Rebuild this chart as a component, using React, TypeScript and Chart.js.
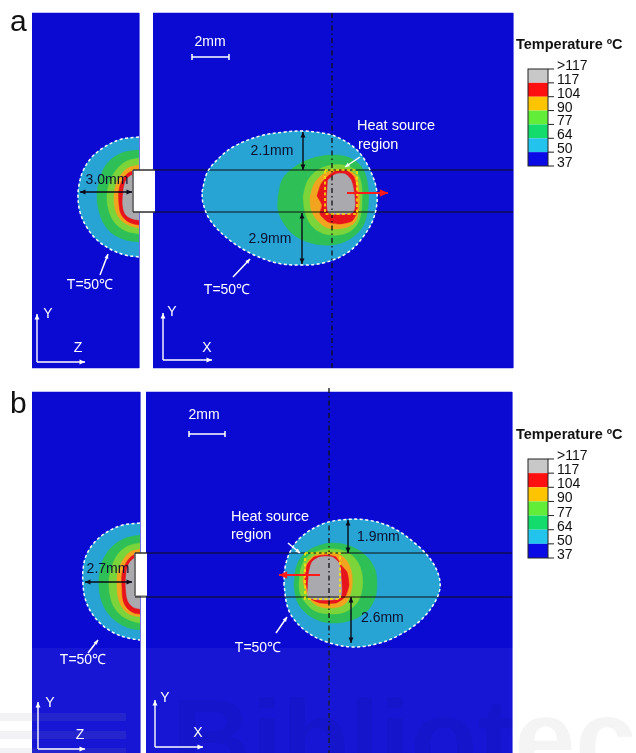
import React, { useEffect, useRef } from 'react';
import { Chart, registerables } from 'chart.js';
Chart.register(...registerables);

type P = [number, number];
const W = 636;
const H = 753;

// ---- section frames (figure units) ----
const frameA_YZ: P[] = [[32, 13], [139, 13], [139, 368], [32, 368]];
const frameA_XY: P[] = [[153, 13], [513, 13], [513, 368], [153, 368]];
const frameB_YZ: P[] = [[32, 392], [140, 392], [140, 753], [32, 753]];
const frameB_XY: P[] = [[146, 392], [512, 392], [512, 753], [146, 753]];
const notchA: P[] = [[155, 170], [133, 170], [133, 212], [155, 212]];
const notchB: P[] = [[147, 553], [135, 553], [135, 596], [147, 596]];

// ---- temperature levels ----
const levelLabels = ['>117', '117', '104', '90', '77', '64', '50', '37'];
const legendColors = ['#c8c8c8', '#ff1010', '#ffc400', '#62ee38', '#14dc6c', '#22c4ee', '#0a0ae6'];

// ---- contours: panel a, Y-Z section ----
const aYZ_50: P[] = [[139, 137], [122, 139], [106, 146], [92, 157], [83, 171], [79, 185], [78, 197], [80, 212], [86, 226], [96, 239], [110, 249], [125, 255], [139, 257]];
const aYZ_64: P[] = [[139, 150], [125, 152], [113, 158], [104, 168], [99, 182], [97, 196], [99, 211], [104, 224], [113, 234], [126, 240], [139, 242]];
const aYZ_77: P[] = [[139, 158], [127, 161], [117, 169], [110, 181], [107, 196], [109, 211], [115, 223], [126, 231], [139, 234]];
const aYZ_90: P[] = [[139, 165], [128, 168], [120, 176], [115, 188], [114, 200], [116, 212], [122, 221], [131, 226], [139, 228]];
const aYZ_104: P[] = [[139, 170], [130, 172], [123, 179], [119, 190], [119, 204], [121, 214], [127, 221], [134, 224], [139, 225]];
const aYZ_117: P[] = [[139, 174], [130, 176], [125, 183], [123, 195], [123, 207], [126, 215], [133, 219], [139, 220]];

// ---- contours: panel a, X-Y section ----
const aXY_50: P[] = [[202, 192], [207, 173], [217, 160], [233, 147], [260, 136], [285, 132], [303, 131], [322, 133], [337, 137], [357, 150], [370, 170], [377, 193], [374, 217], [363, 237], [347, 253], [323, 263], [300, 265], [277, 263], [250, 253], [227, 238], [210, 220], [203, 203]];
const aXY_64: P[] = [[278, 197], [282, 180], [293, 168], [310, 159], [332, 155], [350, 158], [363, 169], [368, 187], [368, 207], [363, 226], [350, 239], [332, 245], [311, 243], [294, 235], [283, 222], [278, 210]];
const aXY_77: P[] = [[303, 197], [307, 182], [315, 172], [327, 166], [343, 165], [355, 170], [361, 182], [362, 200], [360, 218], [352, 230], [338, 235], [322, 233], [311, 225], [305, 212]];
const aXY_90: P[] = [[310, 197], [314, 184], [322, 175], [333, 170], [347, 170], [356, 176], [359, 190], [359, 208], [355, 222], [344, 228], [328, 228], [317, 220], [311, 209]];
const aXY_104: P[] = [[317, 196], [321, 184], [328, 176], [336, 171], [347, 171], [354, 177], [357, 192], [357, 212], [352, 221], [340, 224], [328, 222], [320, 214], [322, 205]];
const aXY_117: P[] = [[328, 180], [336, 174], [345, 174], [351, 180], [354, 192], [355, 206], [352, 213], [329, 213], [327, 200]];
const aSource: P[] = [[325, 170], [357, 170], [357, 214], [325, 214], [325, 170]];

// ---- contours: panel b, Y-Z section ----
const bYZ_50: P[] = [[140, 523], [123, 525], [107, 532], [94, 543], [86, 556], [83, 570], [83, 584], [85, 598], [91, 612], [101, 624], [114, 633], [128, 638], [140, 640]];
const bYZ_64: P[] = [[140, 535], [126, 538], [114, 545], [105, 556], [100, 570], [99, 585], [101, 599], [107, 612], [117, 622], [129, 628], [140, 630]];
const bYZ_77: P[] = [[140, 543], [128, 546], [118, 554], [112, 566], [109, 580], [110, 595], [114, 607], [122, 616], [132, 621], [140, 623]];
const bYZ_90: P[] = [[140, 549], [130, 552], [123, 560], [118, 571], [117, 584], [118, 597], [122, 607], [129, 614], [140, 617]];
const bYZ_104: P[] = [[140, 553], [132, 556], [126, 563], [122, 574], [122, 588], [123, 600], [127, 608], [134, 613], [140, 614]];
const bYZ_117: P[] = [[140, 557], [133, 559], [128, 566], [126, 577], [126, 590], [128, 601], [133, 607], [140, 609]];

// ---- contours: panel b, X-Y section ----
const bXY_50: P[] = [[284, 585], [285, 568], [290, 552], [300, 538], [320, 525], [340, 520], [367, 520], [393, 528], [417, 545], [433, 563], [440, 582], [437, 598], [423, 618], [403, 633], [380, 643], [353, 647], [327, 642], [307, 632], [293, 618], [287, 605]];
const bXY_64: P[] = [[294, 585], [296, 568], [303, 555], [315, 547], [332, 543], [350, 546], [365, 555], [374, 567], [377, 582], [375, 598], [367, 611], [352, 620], [333, 623], [315, 619], [302, 609], [296, 598]];
const bXY_77: P[] = [[299, 584], [301, 568], [307, 557], [318, 551], [333, 549], [347, 552], [357, 561], [362, 574], [362, 590], [357, 603], [345, 612], [330, 614], [315, 611], [305, 602], [300, 593]];
const bXY_90: P[] = [[303, 582], [305, 567], [312, 557], [324, 553], [338, 554], [347, 561], [352, 575], [351, 592], [345, 604], [332, 608], [318, 606], [309, 598]];
const bXY_104: P[] = [[305, 580], [307, 565], [314, 557], [326, 555], [336, 557], [341, 565], [347, 572], [349, 585], [345, 597], [336, 603], [320, 603], [310, 598]];
const bXY_117: P[] = [[309, 572], [312, 562], [320, 557], [332, 557], [339, 563], [341, 575], [340, 598], [309, 598], [308, 585]];
const bSource: P[] = [[305, 553], [340, 553], [340, 599], [305, 599], [305, 553]];

// ---- reference lines ----
const interfaceLines: P[][] = [
  [[133, 170], [513, 170]], [[133, 212], [513, 212]],
  [[135, 553], [512, 553]], [[135, 597], [512, 597]],
];
const centreLines: P[][] = [[[332, 13], [332, 368]], [[329, 388], [329, 753]]];

// ---- annotations ----
const dimArrows = [[303, 132, 303, 170], [302, 213, 302, 264], [80, 192, 132, 192], [348, 520, 348, 553], [351, 597, 351, 643], [85, 582, 132, 582]];
const moveArrows = [[347, 193, 388, 193], [320, 575, 279, 575]];
const pointerArrows = [[360, 157, 345, 167], [233, 277, 250, 259], [100, 275, 108, 254], [288, 543, 300, 553], [276, 633, 287, 617], [88, 653, 98, 640]];
const axisArrows = [
  [37, 362, 37, 314], [37, 362, 85, 362], [163, 360, 163, 313], [163, 360, 212, 360],
  [38, 749, 38, 702], [38, 749, 85, 749], [155, 747, 155, 700], [155, 747, 203, 747],
];
const scaleBars = [[192, 229, 57], [189, 225, 434]];
const legendBoxes = [[528, 548, 69, 166, 516, 45], [528, 548, 459, 558, 516, 435]];

type Lbl = { t: string; x: number; y: number; s: number; c: string; a: CanvasTextAlign; b?: boolean; base?: CanvasTextBaseline };
const WHITE = '#ffffff';
const DARK = '#0d1030';
const labels: Lbl[] = [
  { t: 'a', x: 10, y: 31, s: 30, c: '#111', a: 'left', base: 'alphabetic' },
  { t: 'b', x: 10, y: 413, s: 30, c: '#111', a: 'left', base: 'alphabetic' },
  { t: '2mm', x: 210, y: 42, s: 14, c: WHITE, a: 'center' },
  { t: '2mm', x: 204, y: 415, s: 14, c: WHITE, a: 'center' },
  { t: 'Heat source', x: 357, y: 126, s: 14.5, c: WHITE, a: 'left' },
  { t: 'region', x: 358, y: 145, s: 14.5, c: WHITE, a: 'left' },
  { t: 'Heat source', x: 231, y: 517, s: 14.5, c: WHITE, a: 'left' },
  { t: 'region', x: 231, y: 535, s: 14.5, c: WHITE, a: 'left' },
  { t: 'T=50\u2103', x: 90, y: 285, s: 14, c: WHITE, a: 'center' },
  { t: 'T=50\u2103', x: 227, y: 290, s: 14, c: WHITE, a: 'center' },
  { t: 'T=50\u2103', x: 83, y: 660, s: 14, c: WHITE, a: 'center' },
  { t: 'T=50\u2103', x: 258, y: 648, s: 14, c: WHITE, a: 'center' },
  { t: '3.0mm', x: 107, y: 180, s: 14, c: DARK, a: 'center' },
  { t: '2.7mm', x: 108, y: 569, s: 14, c: DARK, a: 'center' },
  { t: '2.1mm', x: 272, y: 151, s: 14, c: DARK, a: 'center' },
  { t: '2.9mm', x: 270, y: 239, s: 14, c: DARK, a: 'center' },
  { t: '1.9mm', x: 357, y: 537, s: 14, c: DARK, a: 'left' },
  { t: '2.6mm', x: 361, y: 618, s: 14, c: DARK, a: 'left' },
  { t: 'Y', x: 48, y: 314, s: 14, c: WHITE, a: 'center' },
  { t: 'Z', x: 78, y: 348, s: 14, c: WHITE, a: 'center' },
  { t: 'Y', x: 172, y: 312, s: 14, c: WHITE, a: 'center' },
  { t: 'X', x: 207, y: 348, s: 14, c: WHITE, a: 'center' },
  { t: 'Y', x: 50, y: 703, s: 14, c: WHITE, a: 'center' },
  { t: 'Z', x: 80, y: 735, s: 14, c: WHITE, a: 'center' },
  { t: 'Y', x: 165, y: 698, s: 14, c: WHITE, a: 'center' },
  { t: 'X', x: 198, y: 733, s: 14, c: WHITE, a: 'center' },
];

const FONT = '"Liberation Sans", Arial, sans-serif';
const BLUE = '#0a0ad2';
const C50 = '#27a3d4';
const C64 = '#2ec056';
const C77 = '#7ad43a';
const C90 = '#f2a41e';
const C104 = '#e8141c';
const C117 = '#a9a9ae';

const toData = (pts: P[]) => pts.map(([x, y]) => ({ x, y }));
const closed = (pts: P[]): P[] => [...pts, pts[0]];

function area(pts: P[], color: string, tension = 0.35, border?: string, bw = 0.5) {
  return {
    data: toData(pts), showLine: true, fill: 'shape', backgroundColor: color,
    borderColor: border || color, borderWidth: bw, tension, pointRadius: 0,
  };
}
function line(pts: P[], color: string, width: number, dash: number[] = [], tension = 0) {
  return {
    data: toData(pts), showLine: true, fill: false, borderColor: color,
    borderWidth: width, borderDash: dash, tension, pointRadius: 0,
  };
}

function arrow(ctx: CanvasRenderingContext2D, x1: number, y1: number, x2: number, y2: number, color: string, lw: number, head: number, both: boolean) {
  ctx.save();
  ctx.strokeStyle = color;
  ctx.fillStyle = color;
  ctx.lineWidth = lw;
  const a = Math.atan2(y2 - y1, x2 - x1);
  ctx.beginPath();
  ctx.moveTo(x1, y1);
  ctx.lineTo(x2, y2);
  ctx.stroke();
  const tip = (x: number, y: number, ang: number) => {
    ctx.beginPath();
    ctx.moveTo(x, y);
    ctx.lineTo(x - head * Math.cos(ang - 0.42), y - head * Math.sin(ang - 0.42));
    ctx.lineTo(x - head * Math.cos(ang + 0.42), y - head * Math.sin(ang + 0.42));
    ctx.closePath();
    ctx.fill();
  };
  tip(x2, y2, a);
  if (both) tip(x1, y1, a + Math.PI);
  ctx.restore();
}

const annotate = {
  id: 'annotate',
  afterDatasetsDraw(chart: any) {
    const ctx: CanvasRenderingContext2D = chart.ctx;
    const xs = chart.scales.x;
    const ys = chart.scales.y;
    const X = (v: number) => xs.getPixelForValue(v);
    const Y = (v: number) => ys.getPixelForValue(v);
    ctx.save();
    // watermark band
    ctx.fillStyle = 'rgba(255,255,255,0.05)';
    ctx.fillRect(X(0), Y(648), X(W) - X(0), Y(H) - Y(648));
    ctx.fillStyle = 'rgba(150,150,165,0.12)';
    [713, 731, 748].forEach((y) => ctx.fillRect(X(0), Y(y), X(126) - X(0), Y(y + 8) - Y(y)));
    ctx.fillStyle = 'rgba(0,0,30,0.045)';
    ctx.font = `bold 110px ${FONT}`;
    ctx.textAlign = 'left';
    ctx.textBaseline = 'alphabetic';
    ctx.fillText('Biblioteca', X(172), Y(776));

    dimArrows.forEach(([a, b, c, d]) => arrow(ctx, X(a), Y(b), X(c), Y(d), '#0a0a18', 1.4, 6, true));
    moveArrows.forEach(([a, b, c, d]) => arrow(ctx, X(a), Y(b), X(c), Y(d), '#ff1a1a', 2.2, 9, false));
    pointerArrows.forEach(([a, b, c, d]) => arrow(ctx, X(a), Y(b), X(c), Y(d), WHITE, 1.5, 5, false));
    axisArrows.forEach(([a, b, c, d]) => arrow(ctx, X(a), Y(b), X(c), Y(d), WHITE, 1.4, 6, false));
    ctx.strokeStyle = WHITE;
    ctx.lineWidth = 1.5;
    scaleBars.forEach(([x0, x1, y]) => {
      ctx.beginPath();
      ctx.moveTo(X(x0), Y(y)); ctx.lineTo(X(x1), Y(y));
      ctx.moveTo(X(x0), Y(y - 3)); ctx.lineTo(X(x0), Y(y + 3));
      ctx.moveTo(X(x1), Y(y - 3)); ctx.lineTo(X(x1), Y(y + 3));
      ctx.stroke();
    });

    labels.forEach((l) => {
      ctx.font = `${l.b ? 'bold ' : ''}${l.s}px ${FONT}`;
      ctx.fillStyle = l.c;
      ctx.textAlign = l.a;
      ctx.textBaseline = l.base || 'middle';
      ctx.fillText(l.t, X(l.x), Y(l.y));
    });

    // colour legends
    legendBoxes.forEach(([x0, x1, top, bottom, tx, ty]) => {
      ctx.font = `bold 14.5px ${FONT}`;
      ctx.fillStyle = '#111';
      ctx.textAlign = 'left';
      ctx.textBaseline = 'middle';
      ctx.fillText('Temperature \u00baC', X(tx), Y(ty));
      const n = legendColors.length;
      const h = (bottom - top) / n;
      legendColors.forEach((c, i) => {
        ctx.fillStyle = c;
        ctx.fillRect(X(x0), Y(top + i * h), X(x1) - X(x0), Y(top + (i + 1) * h) - Y(top + i * h));
      });
      ctx.strokeStyle = '#222';
      ctx.lineWidth = 1;
      ctx.strokeRect(X(x0), Y(top), X(x1) - X(x0), Y(bottom) - Y(top));
      ctx.font = `14px ${FONT}`;
      ctx.fillStyle = '#111';
      ctx.textBaseline = 'alphabetic';
      levelLabels.forEach((t, i) => {
        const yb = top + i * h;
        ctx.beginPath();
        ctx.moveTo(X(x1), Y(yb));
        ctx.lineTo(X(x1 + 6), Y(yb));
        ctx.stroke();
        ctx.fillText(t, X(x1 + 9), Y(yb + 1));
      });
    });
    ctx.restore();
  },
};

export default function App() {
  const ref = useRef<HTMLCanvasElement>(null);
  useEffect(() => {
    if (!ref.current) return;
    const list: any[] = [
      area(frameA_YZ, BLUE, 0), area(frameA_XY, BLUE, 0), area(frameB_YZ, BLUE, 0), area(frameB_XY, BLUE, 0),
      area(aYZ_50, C50), area(aYZ_64, C64), area(aYZ_77, C77), area(aYZ_90, C90), area(aYZ_104, C104), area(aYZ_117, C117),
      area(closed(aXY_50), C50), area(closed(aXY_64), C64), area(closed(aXY_77), C77), area(closed(aXY_90), C90), area(closed(aXY_104), C104, 0.2), area(closed(aXY_117), C117, 0.25),
      area(bYZ_50, C50), area(bYZ_64, C64), area(bYZ_77, C77), area(bYZ_90, C90), area(bYZ_104, C104), area(bYZ_117, C117),
      area(closed(bXY_50), C50), area(closed(bXY_64), C64), area(closed(bXY_77), C77), area(closed(bXY_90), C90), area(closed(bXY_104), C104, 0.2), area(closed(bXY_117), C117, 0.25),
      area(notchA, '#ffffff', 0, '#666', 1), area(notchB, '#ffffff', 0, '#666', 1),
      ...interfaceLines.map((l) => line(l, '#111', 1)),
      ...centreLines.map((l) => line(l, '#111', 1.3, [5, 3, 1.5, 3])),
      line(aSource, '#ffe600', 1.6, [3, 2.5]), line(bSource, '#ffe600', 1.6, [3, 2.5]),
      line(aYZ_50, WHITE, 1.5, [3, 2.5], 0.35), line(closed(aXY_50), WHITE, 1.5, [3, 2.5], 0.35),
      line(bYZ_50, WHITE, 1.5, [3, 2.5], 0.35), line(closed(bXY_50), WHITE, 1.5, [3, 2.5], 0.35),
    ];
    const N = list.length;
    list.forEach((d, i) => { d.order = N - i; });
    const chart = new Chart(ref.current, {
      type: 'scatter',
      data: { datasets: list },
      options: {
        responsive: false,
        maintainAspectRatio: false,
        animation: false,
        devicePixelRatio: 1,
        events: [],
        layout: { padding: 0 },
        scales: {
          x: { type: 'linear', min: 0, max: W, display: false },
          y: { type: 'linear', min: 0, max: H, reverse: true, display: false },
        },
        plugins: { legend: { display: false }, tooltip: { enabled: false } },
        elements: { point: { radius: 0, hoverRadius: 0 } },
      },
      plugins: [annotate],
    } as any);
    return () => chart.destroy();
  }, []);
  return (
    <div style={{ position: 'absolute', left: 0, top: 0, width: W, height: H, background: '#fff' }}>
      <canvas ref={ref} width={W} height={H} style={{ display: 'block' }} />
    </div>
  );
}
